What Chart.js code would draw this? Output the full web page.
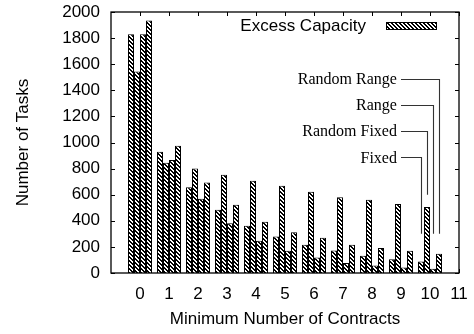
<!DOCTYPE html>
<html>
<head>
<meta charset="utf-8">
<script src="https://cdn.jsdelivr.net/npm/chart.js@4.4.1/dist/chart.umd.min.js"></script>
<style>
  html, body { margin: 0; padding: 0; background: #fff; }
  #wrap { width: 474px; height: 334px; }
</style>
</head>
<body>
<div id="wrap"><canvas id="taskChart" width="474" height="334"></canvas></div>
<script>
// minimum number of contracts per group
const contracts = [0, 1, 2, 3, 4, 5, 6, 7, 8, 9, 10];
const fixed       = [1830, 930, 658, 484, 362, 280, 216, 173, 132, 106, 88];
const randomFixed = [1544, 845, 801, 752, 706, 668, 622, 580, 561, 528, 505];
const range       = [1830, 865, 569, 382, 247, 170, 119, 76, 58, 42, 32];
const randomRange = [1935, 975, 694, 523, 392, 313, 270, 216, 191, 170, 147];
const seriesNames = ["Fixed", "Random Fixed", "Range", "Random Range"];
const xTicks = [0, 1, 2, 3, 4, 5, 6, 7, 8, 9, 10, 11];
const yTicks = [0, 200, 400, 600, 800, 1000, 1200, 1400, 1600, 1800, 2000];
// callout labels: where the text sits and where its leader line stops
const calloutTextY = [890, 1090, 1290, 1490];
const calloutEndY  = [300, 600, 300, 300];
const calloutTextX = 8.86;

const SANS = "'Liberation Sans', Arial, Helvetica, sans-serif";
const SERIF = "'Liberation Serif', 'Times New Roman', serif";

// crisp "\\\\" hatch, one tile of 4x4 pixels
function makeHatch() {
  const c = document.createElement("canvas");
  c.width = 4; c.height = 4;
  const g = c.getContext("2d");
  g.fillStyle = "#fff";
  g.fillRect(0, 0, 4, 4);
  g.fillStyle = "#000";
  for (let i = 0; i < 4; i++) {
    g.fillRect(i, i, 1, 1);
    g.fillRect((i + 1) % 4, i, 1, 1);
  }
  return g.createPattern(c, "repeat");
}

const ctx = document.getElementById("taskChart").getContext("2d");
const hatch = makeHatch();

const allSeries = [fixed, randomFixed, range, randomRange];
const datasets = allSeries.map((vals, i) => ({
  label: seriesNames[i],
  data: contracts.map((c, j) => ({ x: c, y: vals[j] })),
  backgroundColor: hatch,
  borderColor: "#000",
  borderWidth: 1,
  inflateAmount: 0,
  barThickness: 6
}));

// drop the label-overflow padding so the plot box sits where we put it
const noPad = s => { s.paddingLeft = s.paddingRight = s.paddingTop = s.paddingBottom = 0; };

const framePlugin = {
  id: "frame",
  beforeDatasetsDraw(chart) {
    const { ctx, chartArea: a, scales: { x, y } } = chart;
    ctx.save();
    ctx.strokeStyle = "#000";
    ctx.lineWidth = 1;
    ctx.beginPath();
    yTicks.forEach(v => {
      const py = Math.round(y.getPixelForValue(v)) + 0.5;
      ctx.moveTo(a.left, py); ctx.lineTo(a.left + 4, py);
      ctx.moveTo(a.right, py); ctx.lineTo(a.right - 4, py);
    });
    xTicks.forEach(v => {
      const px = Math.round(x.getPixelForValue(v)) + 0.5;
      ctx.moveTo(px, a.top); ctx.lineTo(px, a.top + 4);
      ctx.moveTo(px, a.bottom); ctx.lineTo(px, a.bottom - 4);
    });
    ctx.stroke();
    ctx.restore();
  },
  afterDatasetsDraw(chart) {
    const { ctx, chartArea: a, scales: { x, y } } = chart;
    ctx.save();
    // border
    ctx.strokeStyle = "#000";
    ctx.lineWidth = 1.3;
    ctx.strokeRect(a.left, a.top, a.right - a.left, a.bottom - a.top);

    // legend (text then key, top right)
    ctx.font = "17px " + SANS;
    ctx.fillStyle = "#000";
    ctx.textAlign = "right";
    ctx.textBaseline = "middle";
    ctx.fillText("Excess Capacity", a.right - 93, a.top + 14);
    ctx.fillStyle = hatch;
    ctx.fillRect(a.right - 73, a.top + 10, 51, 7);
    ctx.lineWidth = 1;
    ctx.strokeRect(a.right - 72.5, a.top + 10.5, 50, 7);

    // callouts pointing at the last group
    const last = contracts.length - 1;
    const tx = x.getPixelForValue(calloutTextX);
    const lx = x.getPixelForValue(contracts[last] - 1);
    ctx.font = "16px " + SERIF;
    ctx.strokeStyle = "#333";
    ctx.lineWidth = 1.1;
    seriesNames.forEach((name, i) => {
      const bar = chart.getDatasetMeta(i).data[last];
      const ty = y.getPixelForValue(calloutTextY[i]);
      const ey = y.getPixelForValue(calloutEndY[i]);
      ctx.fillStyle = "#000";
      ctx.fillText(name, tx, ty + 1.5);
      const bx = Math.round(bar.x) + 0.5;
      const hy = Math.round(ty) + 0.5;
      ctx.beginPath();
      ctx.moveTo(lx, hy);
      ctx.lineTo(bx, hy);
      ctx.lineTo(bx, ey);
      ctx.stroke();
    });
    ctx.restore();
  }
};

Chart.defaults.font.family = SANS;
Chart.defaults.font.size = 17;
Chart.defaults.color = "#000";

new Chart(ctx, {
  type: "bar",
  data: { datasets },
  options: {
    responsive: false,
    animation: false,
    devicePixelRatio: 1,
    layout: { padding: { top: 12, right: 15, left: 0, bottom: 0 } },
    plugins: {
      legend: { display: false },
      tooltip: { enabled: false }
    },
    scales: {
      x: {
        type: "linear",
        min: -1,
        max: 11,
        offset: false,
        grid: { display: false, drawTicks: false },
        border: { display: false },
        afterBuildTicks: s => { s.ticks = xTicks.map(v => ({ value: v })); },
        afterFit: s => { s.height = 61; noPad(s); },
        ticks: { padding: 11, maxRotation: 0, autoSkip: false, font: { size: 17 } },
        title: {
          display: true,
          text: "Minimum Number of Contracts",
          font: { size: 17 },
          padding: { top: 0, bottom: 4 }
        }
      },
      y: {
        min: 0,
        max: 2000,
        grid: { display: false, drawTicks: false },
        border: { display: false },
        afterBuildTicks: s => { s.ticks = yTicks.map(v => ({ value: v })); },
        afterFit: s => { s.width = 111; noPad(s); },
        ticks: { padding: 11, font: { size: 17 }, callback: v => String(v) },
        title: {
          display: true,
          text: "Number of Tasks",
          font: { size: 17 },
          padding: { top: 13, bottom: 0 }
        }
      }
    }
  },
  plugins: [framePlugin]
});
</script>
</body>
</html>
